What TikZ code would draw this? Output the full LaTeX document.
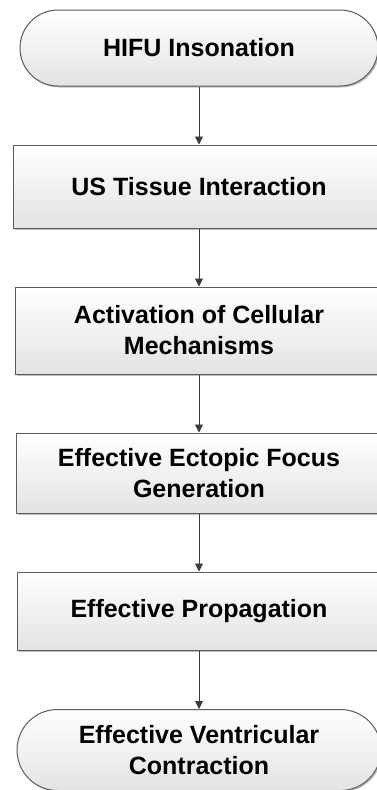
\documentclass[tikz,border=0pt]{standalone}
\usepackage{fontspec}
\setmainfont{Liberation Sans}
\usetikzlibrary{shapes.misc,arrows.meta,shadows}
\definecolor{edgegray}{HTML}{5C5C5C}
\definecolor{arrowgray}{HTML}{3C3C3C}
\tikzset{
  boxbase/.style={draw=edgegray, line width=1pt, inner sep=0pt, align=center,
    top color=white, bottom color=black!11,
    font=\fontsize{25}{31}\selectfont\bfseries,
    drop shadow={shadow xshift=1.5pt, shadow yshift=-1.5pt, opacity=0.25, fill=black}},
  procbox/.style={boxbase, rectangle},
  termbox/.style={boxbase, rounded rectangle},
  flowarrow/.style={draw=arrowgray, line width=0.9pt, -{Triangle[width=8pt,length=8pt]}}
}
\begin{document}
\begin{tikzpicture}[x=1pt,y=-1pt]
\useasboundingbox (0,0) rectangle (377,790);
\clip (0,0) rectangle (377,790);
\fill[white] (0,0) rectangle (377,790);
\node[termbox, minimum width=358pt, minimum height=76pt] (n1) at (199,48) {HIFU Insonation};
\node[procbox, minimum width=371pt, minimum height=83pt] (n2) at (199,186.5) {US Tissue Interaction};
\node[procbox, minimum width=368pt, minimum height=87pt] (n3) at (199,330.5) {Activation of Cellular\\Mechanisms};
\node[procbox, minimum width=366pt, minimum height=80pt] (n4) at (199,473) {Effective Ectopic Focus\\Generation};
\node[procbox, minimum width=364pt, minimum height=78pt] (n5) at (199,611) {Effective Propagation};
\node[termbox, minimum width=364pt, minimum height=81pt] (n6) at (199,750) {Effective Ventricular\\Contraction};
\draw[flowarrow] (n1.south) -- (n2.north);
\draw[flowarrow] (n2.south) -- (n3.north);
\draw[flowarrow] (n3.south) -- (n4.north);
\draw[flowarrow] (n4.south) -- (n5.north);
\draw[flowarrow] (n5.south) -- (n6.north);
\end{tikzpicture}
\end{document}
